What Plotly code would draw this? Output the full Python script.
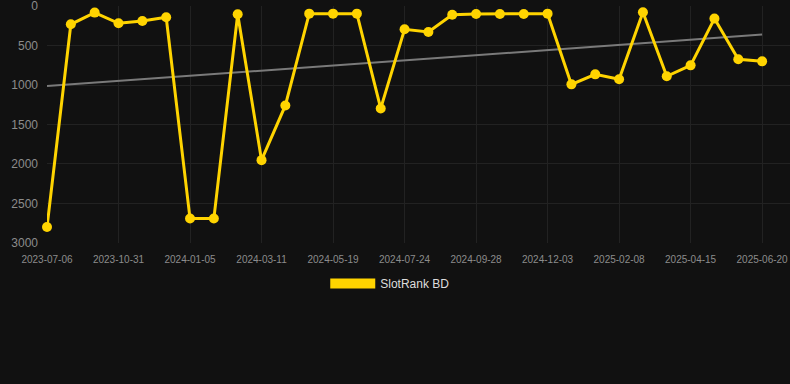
import plotly.graph_objects as go

dates = ["2023-07-06", "2023-08-14", "2023-09-22", "2023-10-31", "2023-11-22", "2023-12-14",
         "2024-01-05", "2024-01-27", "2024-02-18", "2024-03-11", "2024-04-03", "2024-04-26",
         "2024-05-19", "2024-06-10", "2024-07-02", "2024-07-24", "2024-08-15", "2024-09-06",
         "2024-09-28", "2024-10-20", "2024-11-11", "2024-12-03", "2024-12-25", "2025-01-17",
         "2025-02-08", "2025-03-02", "2025-03-24", "2025-04-15", "2025-05-07", "2025-05-29",
         "2025-06-20"]
rank = [2800, 229, 81, 216, 187, 140,
        2693, 2693, 102, 1952, 1258, 94,
        94, 94, 1296, 292, 326, 107,
        98, 98, 98, 94, 991, 864,
        927, 76, 889, 750, 157, 673,
        699]
trend_x = [dates[0], dates[-1]]
trend_y = [1012, 360]
tick_labels = dates[::3]
y_ticks = [0, 500, 1000, 1500, 2000, 2500, 3000]

YELLOW = "#FFD400"
BG = "#111111"
GRID = "#222222"
TICK = "#8c8c8c"

fig = go.Figure()
fig.add_trace(go.Scatter(
    x=trend_x, y=trend_y, mode="lines",
    line=dict(color="#7a7a7a", width=2),
    showlegend=False, hoverinfo="skip"))
fig.add_trace(go.Scatter(
    x=dates, y=rank, mode="lines+markers",
    line=dict(color=YELLOW, width=3),
    marker=dict(color=YELLOW, size=10),
    cliponaxis=False,
    showlegend=False, name="SlotRank BD"))
fig.add_trace(go.Scatter(
    x=[None], y=[None], mode="lines",
    line=dict(color=YELLOW, width=11),
    name="SlotRank BD", showlegend=True))

fig.update_layout(
    width=790, height=384,
    paper_bgcolor=BG, plot_bgcolor=BG,
    margin=dict(l=47, r=0, t=6, b=141),
    font=dict(family="Liberation Sans, Arial, sans-serif", color=TICK),
    showlegend=True,
    legend=dict(
        orientation="h", xref="container", yref="container",
        x=0.494, xanchor="center", y=1 - 283.5 / 384, yanchor="middle",
        font=dict(size=12, color="#dddddd"), itemwidth=45,
        bgcolor="rgba(0,0,0,0)"),
    xaxis=dict(
        type="category", categoryorder="array", categoryarray=dates,
        range=[0, 31.17],
        tickmode="array", tickvals=tick_labels, ticktext=tick_labels,
        showgrid=True, gridcolor=GRID, gridwidth=1,
        zeroline=False, showline=False, ticks="",
        ticklabelstandoff=9, ticklabeloverflow="allow",
        tickfont=dict(size=10, color=TICK)),
    yaxis=dict(
        range=[3003, -3], tickmode="array", tickvals=y_ticks,
        showgrid=True, gridcolor=GRID, gridwidth=1,
        zeroline=False, showline=False, ticks="",
        ticklabelstandoff=8, ticklabeloverflow="allow",
        tickfont=dict(size=12, color=TICK)),
)

fig.write_html(
    "out.html",
    config={"displayModeBar": False},
    post_script="document.body.style.margin='0';document.body.style.background='#111111';",
)
